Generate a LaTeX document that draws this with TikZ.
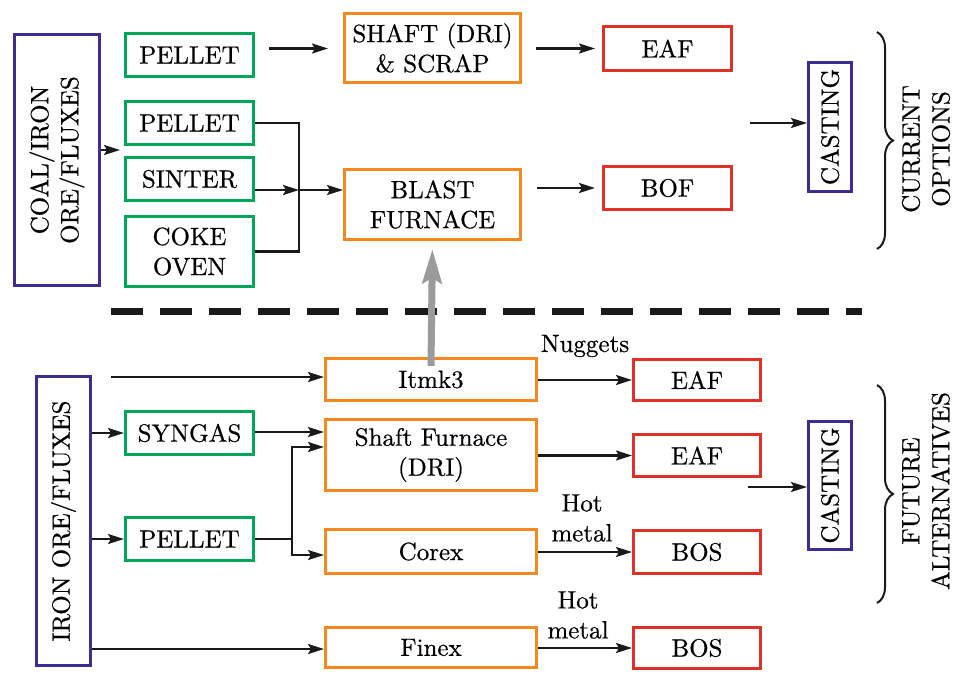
\documentclass[tikz,border=0pt]{standalone}
\usepackage{fontspec}
\newfontfamily\serf{lmroman10-regular.otf}[FakeBold=0.6]
\usetikzlibrary{arrows.meta,decorations.pathreplacing,calc}
\definecolor{cblue}{HTML}{3B2E91}
\definecolor{cgreen}{HTML}{00A65A}
\definecolor{corange}{HTML}{F5891F}
\definecolor{cred}{HTML}{E03127}
\definecolor{cgray}{HTML}{9B9B9B}
\definecolor{cink}{HTML}{1A1A1A}
\newcommand\dfont{\serf\fontsize{25}{30}\selectfont}
\begin{document}
\begin{tikzpicture}[x=1pt,y=-1pt,
  box/.style={draw, line width=3pt, inner sep=0pt, align=center, font=\dfont, text=black},
  bl/.style={box, draw=cblue},
  gr/.style={box, draw=cgreen, minimum width=128pt, minimum height=43pt},
  orb/.style={box, draw=corange},
  rd/.style={box, draw=cred},
  arr/.style={draw=cink, line width=2.2pt, -{Stealth[length=16pt,width=10pt,inset=3pt]}},
  ln/.style={draw=cink, line width=2.2pt},
  lbl/.style={font=\dfont, align=center, inner sep=0pt},
  brc/.style={draw=cink, line width=2pt, decorate, decoration={brace, amplitude=16pt}},
  grayarr/.style={draw=cgray, line width=7pt, -{Stealth[length=34pt,width=19pt,inset=5pt]}}]

\useasboundingbox (0,0) rectangle (953,673);

% ---------- top: current options ----------
% rotated nodes: page-right edge = .south, page-left edge = .north
\node[bl, rotate=90, minimum width=251pt, minimum height=85pt] (coal) at (57,160) {COAL/IRON\\ORE/FLUXES};
\node[gr] (p1) at (189.5,55) {PELLET};
\node[gr] (p2) at (189.5,123) {PELLET};
\node[gr] (sinter) at (189.5,179) {SINTER};
\node[gr, minimum height=70pt] (coke) at (189.5,251.5) {COKE\\OVEN};
\node[orb, minimum width=176pt, minimum height=69pt] (shaft) at (432.5,48) {SHAFT (DRI)\\\& SCRAP};
\node[orb, minimum width=176pt, minimum height=70pt] (bf) at (432.5,204.5) {BLAST\\FURNACE};
\node[rd, minimum width=128pt, minimum height=44pt] (eaf1) at (667.5,48.5) {EAF};
\node[rd, minimum width=128pt, minimum height=43pt] (bof) at (667.5,188) {BOF};
\node[bl, rotate=90, minimum width=129pt, minimum height=43pt] (cast1) at (830,127) {CASTING};

\draw[arr, shorten <=14pt, shorten >=15pt] (p1.east |- eaf1) -- (shaft.west |- eaf1);
\draw[arr, shorten <=14pt, shorten >=7pt] (shaft.east |- eaf1) -- (eaf1.west);
\draw[arr, shorten >=4pt] (coal.south |- 0,150) -- (p2.west |- 0,150);
\coordinate (bus) at (299,190);
\draw[ln] (p2.east) -| (bus |- coke.east) -- (coke.east);
\draw[arr] (sinter.east |- bus) -- (bus);
\draw[arr] (bus) -- (bus -| bf.west);
\draw[arr, shorten <=15pt, shorten >=7pt] (bf.east |- bof) -- (bof.west);
\coordinate (c1) at (750,123);
\draw[arr] (c1) -- (c1 -| cast1.north);

\draw[brc] (877,32) -- (877,249);
\node[lbl, rotate=90] (cur) at (926,149) {CURRENT\\OPTIONS};

% ---------- separator ----------
\draw[draw=cink, line width=7pt, dash pattern=on 32pt off 17pt] (111,311) -- (862,311);

% ---------- bottom: future alternatives ----------
\node[bl, rotate=90, minimum width=289pt, minimum height=54pt] (iron) at (63.5,521) {IRON ORE/FLUXES};
\node[gr] (syngas) at (189.5,433) {SYNGAS};
\node[gr] (p3) at (189.5,539) {PELLET};
\node[orb, minimum width=211pt, minimum height=42pt] (itmk) at (431,379.5) {Itmk3};
\node[orb, minimum width=211pt, minimum height=71pt] (shaftf) at (431,455) {Shaft Furnace\\(DRI)};
\node[orb, minimum width=211pt, minimum height=44pt] (corex) at (431,551.5) {Corex};
\node[orb, minimum width=211pt, minimum height=40pt] (finex) at (431,647.5) {Finex};
\node[rd, minimum width=127pt, minimum height=41pt] (eaf2) at (697,380) {EAF};
\node[rd, minimum width=127pt, minimum height=42pt] (eaf3) at (697,455.5) {EAF};
\node[rd, minimum width=127pt, minimum height=43pt] (bos1) at (697,552) {BOS};
\node[rd, minimum width=127pt, minimum height=41pt] (bos2) at (697,648) {BOS};
\node[bl, rotate=90, minimum width=128pt, minimum height=43pt] (cast2) at (830,485.5) {CASTING};

\coordinate (in1) at (111,377);
\draw[arr] (in1) -- (in1 -| itmk.west);
\draw[arr] (iron.south |- syngas) -- (syngas.west);
\draw[arr] (iron.south |- p3) -- (p3.west);
\draw[arr] (syngas.east |- 0,432) -- (shaftf.west |- 0,432);
\coordinate (pb) at (292,539);
\draw[ln] (p3.east) -- (pb);
\draw[arr] (pb) |- (shaftf.west |- 0,447);
\draw[arr] (pb) |- (corex.west |- 0,555);
\draw[arr] (iron.south |- 0,649) -- (finex.west |- 0,649);

\draw[arr] (itmk.east |- eaf2) -- (eaf2.west);
\draw[arr] (shaftf.east |- eaf3) -- (eaf3.west);
\draw[arr] (corex.east |- bos1) -- (bos1.west);
\draw[arr] (finex.east |- bos2) -- (bos2.west);
\node[lbl] (nug) at (585,346) {Nuggets};
\node[lbl] (hm1) at (582,518) {Hot\\metal};
\node[lbl] (hm2) at (578,615) {Hot\\metal};

\coordinate (c2) at (748,487);
\draw[arr] (c2) -- (c2 -| cast2.north);

\draw[brc] (877,385) -- (877,603);
\node[lbl, rotate=90] (fut) at (926,491) {FUTURE\\ALTERNATIVES};

% ---------- gray upward arrow ----------
\draw[grayarr, shorten >=8pt] ($(itmk.north)+(0,9)$) -- (bf.south);
\end{tikzpicture}
\end{document}
